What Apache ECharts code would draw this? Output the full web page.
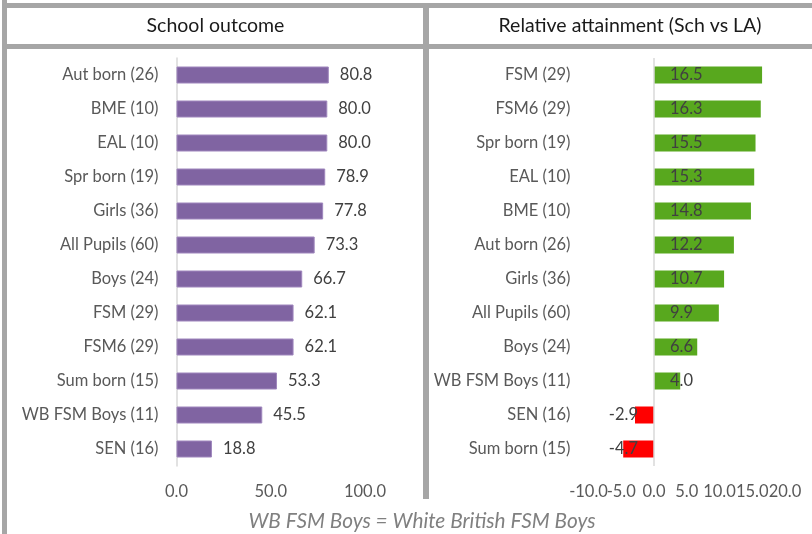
<!DOCTYPE html>
<html>
<head>
<meta charset="utf-8">
<script src="https://cdn.jsdelivr.net/npm/echarts@6/dist/echarts.min.js"></script>
<style>
  html, body { margin: 0; padding: 0; background: #fff; }
  #chart { width: 812px; height: 534px; }
</style>
</head>
<body>
<div id="chart"></div>
<script>
  // left panel: school outcome
  var outcomeNames = ['Aut born (26)', 'BME (10)', 'EAL (10)', 'Spr born (19)', 'Girls (36)', 'All Pupils (60)',
    'Boys (24)', 'FSM (29)', 'FSM6 (29)', 'Sum born (15)', 'WB FSM Boys (11)', 'SEN (16)']
  var outcomeValues = [80.8, 80.0, 80.0, 78.9, 77.8, 73.3, 66.7, 62.1, 62.1, 53.3, 45.5, 18.8]

  // right panel: relative attainment vs LA
  var relNames = ['FSM (29)', 'FSM6 (29)', 'Spr born (19)', 'EAL (10)', 'BME (10)', 'Aut born (26)',
    'Girls (36)', 'All Pupils (60)', 'Boys (24)', 'WB FSM Boys (11)', 'SEN (16)', 'Sum born (15)']
  var relValues = [16.5, 16.3, 15.5, 15.3, 14.8, 12.2, 10.7, 9.9, 6.6, 4.0, -2.9, -4.7]

  var titles = ['School outcome', 'Relative attainment (Sch vs LA)']
  var note = 'WB FSM Boys = White British FSM Boys'

  var font = 'Lato, "Open Sans", sans-serif'
  var gray = '#a6a6a6'
  var fs = 16.5

  var relData = relValues.map(function (v) {
    return {
      value: v,
      itemStyle: { color: v < 0 ? '#ff0000' : '#58a81e' },
      label: { position: v < 0 ? 'insideRight' : 'insideLeft' }
    }
  })

  var myChart = echarts.init(document.getElementById('chart'), null, { renderer: 'canvas' })

  var catAxis = function (names, gridIndex, showLine) {
    return {
      type: 'category',
      gridIndex: gridIndex,
      data: names,
      inverse: true,
      axisTick: { show: false },
      axisLine: { show: showLine, lineStyle: { color: '#d9d9d9', width: 1.5 } },
      axisLabel: { color: '#595959', fontSize: fs, fontFamily: font, margin: 18 }
    }
  }

  // keep(v) decides which tick labels this axis prints
  var valAxis = function (gridIndex, min, max, step, keep) {
    return {
      type: 'value', gridIndex: gridIndex, position: 'bottom', offset: 0,
      min: min, max: max, interval: step,
      splitLine: { show: false }, axisLine: { show: false }, axisTick: { show: false },
      axisLabel: { color: '#595959', fontSize: fs, fontFamily: font, margin: 17,
        showMinLabel: true, showMaxLabel: true, hideOverlap: false,
        formatter: function (v) { return keep && !keep(v) ? '' : v.toFixed(1) } }
    }
  }

  var option = {
    backgroundColor: '#ffffff',
    animation: false,
    grid: [
      { left: 176.5, width: 188.5, top: 58, height: 408 },
      { left: 588.5, width: 196.5, top: 58, height: 408 }
    ],
    xAxis: [
      valAxis(0, 0, 100, 50),
      // the -10.0 label touches -5.0, so it sits on a twin axis to avoid being dropped
      valAxis(1, -10, 20, 5, function (v) { return v > -10 }),
      valAxis(1, -10, 20, 5, function (v) { return v === -10 })
    ],
    yAxis: [
      catAxis(outcomeNames, 0, true),
      catAxis(relNames, 1, false)
    ],
    series: [
      {
        type: 'bar', xAxisIndex: 0, yAxisIndex: 0,
        data: outcomeValues,
        barCategoryGap: '50%',
        itemStyle: { color: '#8064a2', borderColor: '#9f86bd', borderWidth: 1 },
        label: {
          show: true, position: 'right', distance: 11,
          color: '#404040', fontSize: fs, fontFamily: font,
          formatter: function (p) { return p.value.toFixed(1) }
        }
      },
      {
        type: 'bar', xAxisIndex: 1, yAxisIndex: 1,
        data: relData,
        barCategoryGap: '50%',
        label: {
          show: true, distance: 16,
          color: '#404040', fontSize: fs, fontFamily: font,
          formatter: function (p) { return p.value.toFixed(1) }
        },
        // zero line of the right panel
        markLine: {
          silent: true, symbol: 'none', label: { show: false },
          lineStyle: { color: '#d9d9d9', width: 1.5, type: 'solid' },
          data: [{ xAxis: 0 }]
        }
      }
    ],
    graphic: [
      // frame lines
      { type: 'rect', shape: { x: 2, y: 0, width: 5, height: 534 }, style: { fill: gray }, silent: true },
      { type: 'rect', shape: { x: 2, y: 3, width: 810, height: 5 }, style: { fill: gray }, silent: true },
      { type: 'rect', shape: { x: 2, y: 44, width: 810, height: 5 }, style: { fill: gray }, silent: true },
      { type: 'rect', shape: { x: 423, y: 3, width: 6, height: 496 }, style: { fill: gray }, silent: true },
      // headers
      { type: 'text', x: 215.5, y: 26, style: { text: titles[0], fill: '#1a1a1a', font: '19.5px ' + font,
        textAlign: 'center', textVerticalAlign: 'middle' } },
      { type: 'text', x: 630, y: 26, style: { text: titles[1], fill: '#1a1a1a', font: '19.5px ' + font,
        textAlign: 'center', textVerticalAlign: 'middle' } },
      // footnote
      { type: 'text', x: 422, y: 521, style: { text: note, fill: '#808080', font: 'italic 20.8px ' + font,
        textAlign: 'center', textVerticalAlign: 'middle' } }
    ]
  }

  myChart.setOption(option)
</script>
</body>
</html>
